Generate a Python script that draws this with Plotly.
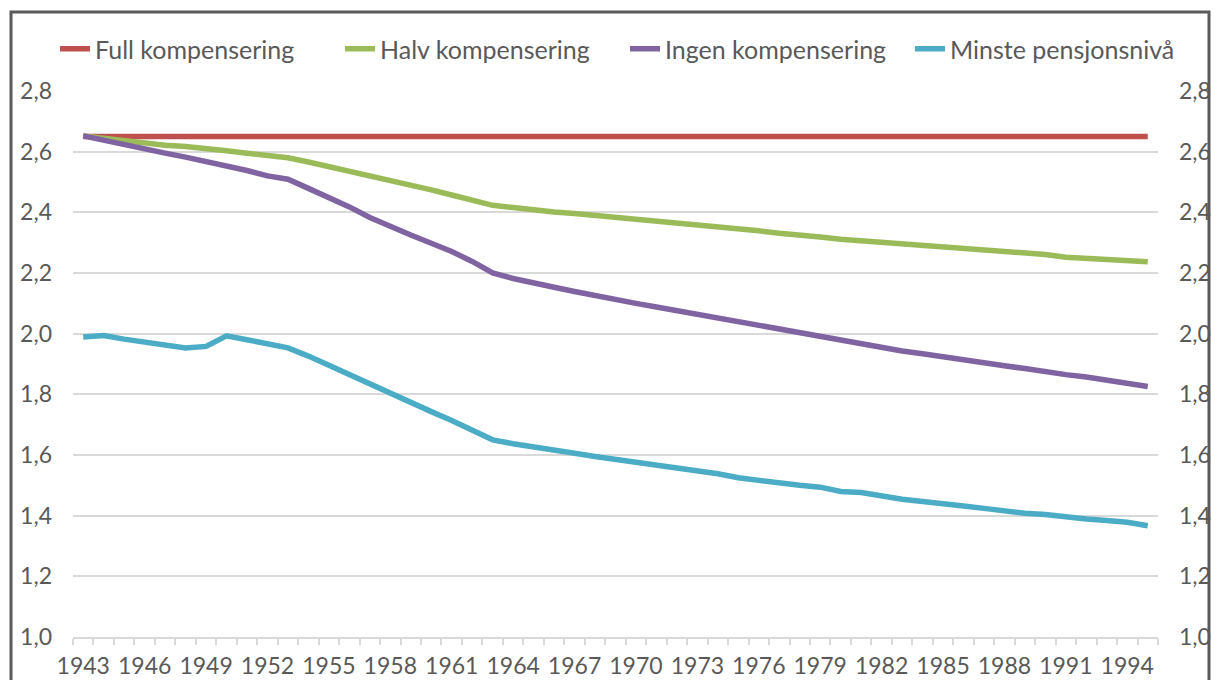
import plotly.graph_objects as go

years = list(range(1943, 1996))

full_komp = [2.65] * len(years)

halv_komp = [2.652, 2.644, 2.637, 2.628, 2.621, 2.617, 2.612, 2.603, 2.595, 2.586,
             2.580, 2.566, 2.551, 2.538, 2.523, 2.507, 2.490, 2.474, 2.457, 2.441,
             2.423, 2.416, 2.407, 2.401, 2.396, 2.390, 2.381, 2.376, 2.370, 2.363,
             2.356, 2.352, 2.346, 2.339, 2.331, 2.326, 2.319, 2.311, 2.306, 2.300,
             2.296, 2.291, 2.287, 2.278, 2.274, 2.270, 2.265, 2.261, 2.252, 2.248,
             2.246, 2.241, 2.237]

ingen_komp = [2.652, 2.637, 2.623, 2.609, 2.595, 2.582, 2.568, 2.551, 2.538, 2.520,
              2.509, 2.479, 2.449, 2.418, 2.383, 2.352, 2.325, 2.298, 2.271, 2.238,
              2.200, 2.182, 2.166, 2.153, 2.139, 2.125, 2.111, 2.100, 2.088, 2.076,
              2.063, 2.050, 2.039, 2.027, 2.015, 2.002, 1.989, 1.976, 1.967, 1.954,
              1.943, 1.934, 1.923, 1.914, 1.903, 1.894, 1.885, 1.874, 1.865, 1.857,
              1.848, 1.839, 1.826]

minste_pensjon = [1.989, 1.994, 1.982, 1.971, 1.962, 1.953, 1.958, 1.993, 1.980, 1.967,
                  1.953, 1.926, 1.895, 1.868, 1.835, 1.806, 1.773, 1.743, 1.714, 1.683,
                  1.650, 1.637, 1.628, 1.615, 1.606, 1.595, 1.586, 1.577, 1.566, 1.556,
                  1.547, 1.538, 1.525, 1.516, 1.507, 1.500, 1.494, 1.480, 1.476, 1.463,
                  1.454, 1.447, 1.441, 1.432, 1.424, 1.415, 1.408, 1.404, 1.395, 1.389,
                  1.384, 1.378, 1.367]

series_names = ["Full kompensering", "Halv kompensering", "Ingen kompensering", "Minste pensjonsnivå"]
series_values = [full_komp, halv_komp, ingen_komp, minste_pensjon]
series_colors = ["#C0504D", "#9BBB59", "#8064A2", "#4BACC6"]

x_tick_labels = [str(y) for y in range(1943, 1996, 3)]
y_ticks = [1.0, 1.2, 1.4, 1.6, 1.8, 2.0, 2.2, 2.4, 2.6, 2.8]

FONT = "Lato"
GRAY_TXT = "#595959"
GRID = "#D9D9D9"

fig = go.Figure()
for name, vals, col in zip(series_names, series_values, series_colors):
    fig.add_trace(go.Scatter(x=years, y=vals, name=name, mode="lines",
                             line=dict(color=col, width=5.5)))
# invisible companion trace so the secondary (right) value axis is drawn
fig.add_trace(go.Scatter(x=years, y=full_komp, yaxis="y2", mode="lines",
                         line=dict(color="rgba(0,0,0,0)", width=0),
                         showlegend=False, hoverinfo="skip"))

OFF = 8  # page body margin
W, H = 1219 - 2 * OFF, 688 - 2 * OFF
ml, mt = 73 - OFF, 91 - OFF
mr = (W + OFF) - 1158
mb = (H + OFF) - 637
pw, ph = W - ml - mr, H - mt - mb

def px_x(px):
    return (px - OFF - ml) / pw

def px_y(py):
    return (H - mb - (py - OFF)) / ph

fig.update_layout(
    width=W, height=H,
    margin=dict(l=ml, r=mr, t=mt, b=mb, pad=0, autoexpand=False),
    paper_bgcolor="white", plot_bgcolor="white",
    separators=", ",
    font=dict(family=FONT, color=GRAY_TXT, size=23),
    showlegend=True,
    legend=dict(orientation="h", x=px_x(55), xanchor="left", y=px_y(49), yanchor="middle",
                font=dict(size=25, color=GRAY_TXT), bgcolor="rgba(0,0,0,0)",
                itemwidth=30, tracegroupgap=0,
                entrywidth=240, entrywidthmode="pixels"),
    xaxis=dict(range=[1942.5, 1995.5], tickvals=[int(t) for t in x_tick_labels],
               ticktext=x_tick_labels, ticks="", showgrid=False, zeroline=False,
               showline=True, linecolor=GRID, linewidth=1.5, automargin=False,
               ticklabelstandoff=8,
               tickfont=dict(size=23, color=GRAY_TXT),
               minor=dict(tickvals=[1942.5 + i for i in range(54)], ticks="outside",
                          ticklen=6, tickcolor=GRID, tickwidth=1.5, showgrid=False)),
    yaxis=dict(range=[1.0, 2.8], tickvals=y_ticks, tickformat=".1f",
               showgrid=True, gridcolor=GRID, gridwidth=1.5, zeroline=False,
               showline=False, ticks="", ticklabelstandoff=20, automargin=False,
               tickfont=dict(size=23, color=GRAY_TXT)),
    yaxis2=dict(range=[1.0, 2.8], tickvals=y_ticks, tickformat=".1f",
                overlaying="y", side="right", showgrid=False, zeroline=False,
                showline=False, ticks="", ticklabelstandoff=20, automargin=False,
                tickfont=dict(size=23, color=GRAY_TXT)),
)

fig.add_shape(type="rect", xref="paper", yref="paper",
              x0=px_x(11), x1=px_x(1209), y0=px_y(700), y1=px_y(12),
              line=dict(color="#5A5A5A", width=3), fillcolor="rgba(0,0,0,0)",
              layer="above")

fig.write_html("out.html")
